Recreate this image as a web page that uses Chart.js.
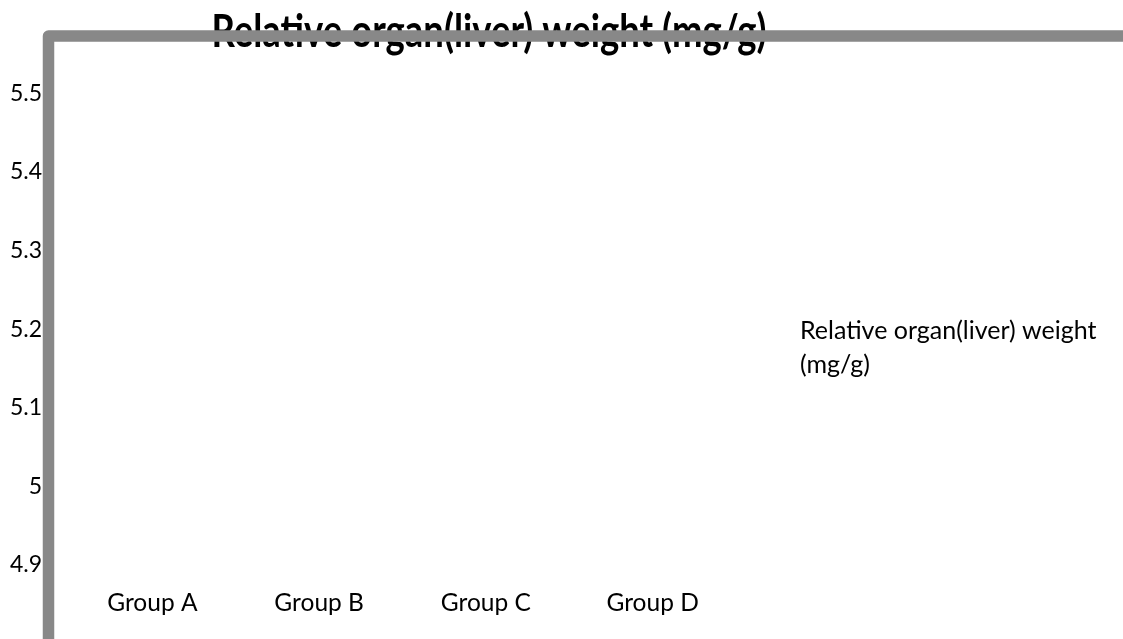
<!DOCTYPE html>
<html>
<head>
<meta charset="utf-8">
<script src="https://cdn.jsdelivr.net/npm/chart.js@4.4.1/dist/chart.umd.min.js"></script>
<style>
  html, body { margin: 0; padding: 0; background: #ffffff; overflow: hidden; }
  #wrap { width: 1123px; height: 639px; position: relative; }
  canvas { display: block; }
</style>
</head>
<body>
<div id="wrap"><canvas id="chart" width="1123" height="639"></canvas></div>
<script>
// Chart content
const chartTitle = 'Relative organ(liver) weight (mg/g)';
const groups = ['Group A', 'Group B', 'Group C', 'Group D'];
const seriesName = 'Relative organ(liver) weight (mg/g)';
const legendLines = ['Relative organ(liver) weight', '(mg/g)'];
// no bars are drawn for any group
const liverWeight = [null, null, null, null];
const yTickValues = [4.9, 5.0, 5.1, 5.2, 5.3, 5.4, 5.5];
const yTickLabels = ['4.9', '5', '5.1', '5.2', '5.3', '5.4', '5.5'];
const yMin = 4.881;
const yMax = 5.565;

const FONT = 'Lato, "Open Sans", sans-serif';

// Title, plot frame and legend text drawn on top of the chart
const framePlugin = {
  id: 'frameAndText',
  afterDraw(chart) {
    const ctx = chart.ctx;
    const area = chart.chartArea;
    ctx.save();

    // title
    ctx.save();
    ctx.translate(489, 47);
    ctx.scale(1, 1.24);
    ctx.font = 'bold 36.5px ' + FONT;
    ctx.fillStyle = '#000000';
    ctx.textAlign = 'center';
    ctx.textBaseline = 'alphabetic';
    ctx.fillText(chartTitle, 0, 0);
    ctx.restore();

    // plot area frame (left and top edges)
    const fx = area.left - 20.5;
    const fy = area.top - 6;
    ctx.strokeStyle = '#888888';
    ctx.lineWidth = 11.5;
    ctx.lineJoin = 'round';
    ctx.beginPath();
    ctx.moveTo(fx, chart.height + 20);
    ctx.lineTo(fx, fy);
    ctx.lineTo(chart.width + 20, fy);
    ctx.stroke();

    // legend
    ctx.font = '25px ' + FONT;
    ctx.fillStyle = '#000000';
    ctx.textAlign = 'left';
    ctx.textBaseline = 'alphabetic';
    legendLines.forEach((line, i) => ctx.fillText(line, 800, 339 + i * 34));

    ctx.restore();
  }
};

new Chart(document.getElementById('chart'), {
  type: 'bar',
  data: {
    labels: groups,
    datasets: [{
      label: seriesName,
      data: liverWeight,
      backgroundColor: '#4f81bd'
    }]
  },
  options: {
    responsive: false,
    devicePixelRatio: 1,
    animation: false,
    layout: { padding: { left: 0, right: 387, top: 42, bottom: 0 } },
    plugins: {
      legend: { display: false },
      title: { display: false },
      tooltip: { enabled: false }
    },
    scales: {
      x: {
        type: 'category',
        offset: true,
        grid: { display: false, drawTicks: false },
        border: { display: false },
        ticks: {
          color: '#000000',
          font: { family: FONT, size: 24.5 },
          padding: 8,
          maxRotation: 0,
          autoSkip: false
        },
        afterFit(scale) { scale.height = 59; }
      },
      y: {
        min: yMin,
        max: yMax,
        grid: { display: false, drawTicks: false },
        border: { display: false },
        afterBuildTicks(scale) {
          scale.ticks = yTickValues.map(v => ({ value: v }));
        },
        ticks: {
          color: '#000000',
          font: { family: FONT, size: 23 },
          padding: 27,
          callback(value) {
            const i = yTickValues.indexOf(value);
            return i >= 0 ? yTickLabels[i] : '';
          }
        },
        afterFit(scale) { scale.width = 69; }
      }
    }
  },
  plugins: [framePlugin]
});
</script>
</body>
</html>
